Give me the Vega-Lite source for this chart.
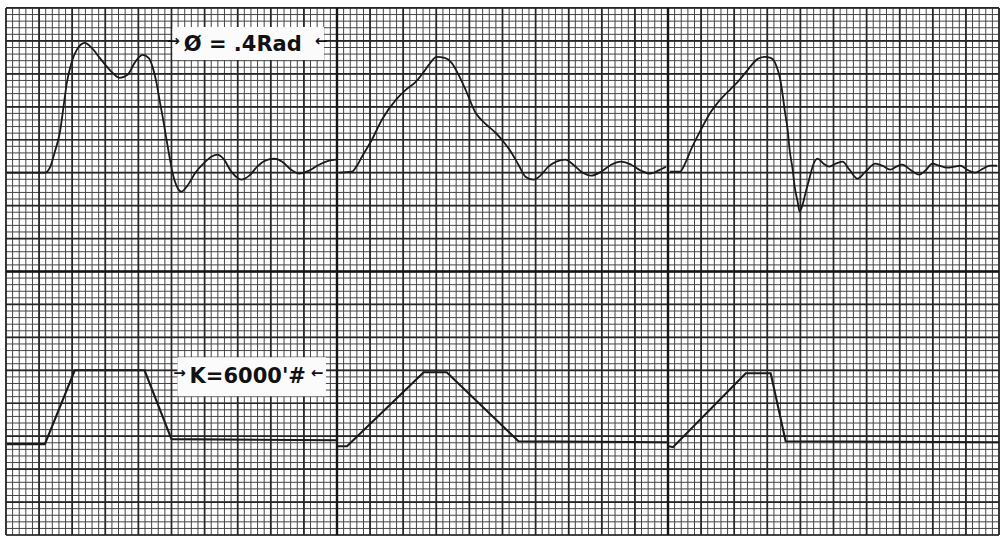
{
  "$schema": "https://vega.github.io/schema/vega-lite/v6.json",
  "width": 1004,
  "height": 537,
  "autosize": {"type": "fit", "contains": "padding"},
  "padding": 0,
  "background": "#ffffff",
  "config": {"view": {"stroke": null}},
  "datasets": {
    "vminor": [0,1,2,3,4,5,6,7,8,9,10,11,12,13,14,15,16,17,18,19,20,21,22,23,24,25,26,27,28,29,30,31,32,33,34,35,36,37,38,39,40,41,42,43,44,45,46,47,48,49,50,51,52,53,54,55,56,57,58,59,60,61,62,63,64,65,66,67,68,69,70,71,72,73,74,75,76,77,78,79,80,81,82,83,84,85,86,87,88,89,90,91,92,93,94,95,96,97,98,99,100,101,102,103,104,105,106,107,108,109,110,111,112,113,114,115,116,117,118,119,120,121,122,123,124,125,126,127,128,129,130,131,132,133,134,135,136,137,138,139,140,141,142,143,144,145,146,147,148,149,150],
    "hminor": [0,1,2,3,4,5,6,7,8,9,10,11,12,13,14,15,16,17,18,19,20,21,22,23,24,25,26,27,28,29,30,31,32,33,34,35,36,37,38,39,40,41,42,43,44,45,46,47,48,49,50,51,52,53,54,55,56,57,58,59,60,61,62,63,64,65,66,67,68,69,70,71,72,73,74,75,76,77,78,79,80],
    "vmajor": [0,5,10,15,20,25,30,35,40,45,50,55,60,65,70,75,80,85,90,95,100,105,110,115,120,125,130,135,140,145,150],
    "hmajor": [0,5,10,15,20,25,30,35,40,45,50,55,60,65,70,75,80],
    "vheavy": [50,100],
    "hheavy": [40],
    "top": [
      {"seg":"a","t":0.15,"v":55.0},{"seg":"a","t":5.87,"v":55.0},{"seg":"a","t":6.63,"v":55.76},{"seg":"a","t":7.38,"v":58.18},{"seg":"a","t":8.13,"v":61.06},{"seg":"a","t":8.73,"v":65.3},{"seg":"a","t":9.19,"v":68.64},{"seg":"a","t":9.94,"v":71.82},{"seg":"a","t":10.69,"v":73.64},{"seg":"a","t":11.9,"v":74.7},{"seg":"a","t":12.95,"v":73.94},{"seg":"a","t":14.16,"v":72.42},{"seg":"a","t":15.66,"v":70.61},{"seg":"a","t":17.17,"v":69.39},{"seg":"a","t":18.37,"v":69.85},{"seg":"a","t":19.43,"v":71.67},{"seg":"a","t":20.63,"v":72.88},{"seg":"a","t":21.54,"v":72.42},{"seg":"a","t":22.14,"v":71.06},{"seg":"a","t":22.74,"v":68.64},{"seg":"a","t":23.19,"v":66.06},{"seg":"a","t":23.8,"v":62.73},{"seg":"a","t":24.25,"v":60.0},{"seg":"a","t":24.7,"v":57.42},{"seg":"a","t":25.15,"v":55.0},{"seg":"a","t":25.75,"v":53.03},{"seg":"a","t":26.51,"v":52.12},{"seg":"a","t":27.41,"v":53.03},{"seg":"a","t":28.61,"v":55.0},{"seg":"a","t":29.97,"v":56.52},{"seg":"a","t":31.02,"v":57.42},{"seg":"a","t":31.93,"v":57.73},{"seg":"a","t":32.83,"v":57.12},{"seg":"a","t":34.04,"v":55.15},{"seg":"a","t":35.54,"v":53.94},{"seg":"a","t":36.75,"v":54.55},{"seg":"a","t":37.95,"v":55.91},{"seg":"a","t":39.16,"v":56.82},{"seg":"a","t":40.51,"v":57.12},{"seg":"a","t":41.72,"v":56.67},{"seg":"a","t":43.07,"v":55.45},{"seg":"a","t":44.28,"v":54.85},{"seg":"a","t":45.78,"v":55.3},{"seg":"a","t":47.29,"v":56.21},{"seg":"a","t":48.8,"v":56.82},{"seg":"a","t":49.85,"v":56.97},
      {"seg":"b","t":50.3,"v":55.0},{"seg":"b","t":52.26,"v":55.15},{"seg":"b","t":53.01,"v":56.06},{"seg":"b","t":53.77,"v":57.42},{"seg":"b","t":55.27,"v":60.0},{"seg":"b","t":56.78,"v":63.03},{"seg":"b","t":58.89,"v":66.06},{"seg":"b","t":60.39,"v":67.58},{"seg":"b","t":61.9,"v":68.79},{"seg":"b","t":63.1,"v":70.3},{"seg":"b","t":63.86,"v":71.36},{"seg":"b","t":65.06,"v":72.58},{"seg":"b","t":66.27,"v":72.42},{"seg":"b","t":67.32,"v":71.67},{"seg":"b","t":68.37,"v":69.85},{"seg":"b","t":69.43,"v":67.58},{"seg":"b","t":70.93,"v":64.09},{"seg":"b","t":72.44,"v":62.42},{"seg":"b","t":73.95,"v":61.06},{"seg":"b","t":75.15,"v":59.7},{"seg":"b","t":76.36,"v":58.03},{"seg":"b","t":77.41,"v":56.21},{"seg":"b","t":78.46,"v":54.39},{"seg":"b","t":79.67,"v":53.94},{"seg":"b","t":80.72,"v":54.55},{"seg":"b","t":81.93,"v":55.91},{"seg":"b","t":83.13,"v":56.67},{"seg":"b","t":84.49,"v":56.97},{"seg":"b","t":85.69,"v":56.21},{"seg":"b","t":86.9,"v":55.15},{"seg":"b","t":88.4,"v":54.55},{"seg":"b","t":89.91,"v":55.15},{"seg":"b","t":91.42,"v":56.21},{"seg":"b","t":92.92,"v":56.67},{"seg":"b","t":94.43,"v":56.21},{"seg":"b","t":95.93,"v":55.3},{"seg":"b","t":97.29,"v":54.85},{"seg":"b","t":98.49,"v":55.3},{"seg":"b","t":99.7,"v":55.91},
      {"seg":"c","t":100.3,"v":55.15},{"seg":"c","t":101.81,"v":55.15},{"seg":"c","t":102.71,"v":56.67},{"seg":"c","t":103.46,"v":58.48},{"seg":"c","t":104.97,"v":61.52},{"seg":"c","t":106.48,"v":64.24},{"seg":"c","t":108.28,"v":66.52},{"seg":"c","t":109.49,"v":67.73},{"seg":"c","t":110.54,"v":68.79},{"seg":"c","t":112.05,"v":70.61},{"seg":"c","t":113.55,"v":72.27},{"seg":"c","t":114.61,"v":72.58},{"seg":"c","t":115.51,"v":72.42},{"seg":"c","t":116.11,"v":71.82},{"seg":"c","t":116.57,"v":70.61},{"seg":"c","t":116.87,"v":69.55},{"seg":"c","t":117.32,"v":66.82},{"seg":"c","t":117.62,"v":64.55},{"seg":"c","t":118.07,"v":61.52},{"seg":"c","t":118.37,"v":58.48},{"seg":"c","t":118.83,"v":55.45},{"seg":"c","t":119.13,"v":52.88},{"seg":"c","t":119.58,"v":50.61},{"seg":"c","t":119.88,"v":49.09},{"seg":"c","t":120.33,"v":50.15},{"seg":"c","t":120.78,"v":51.97},{"seg":"c","t":121.39,"v":54.24},{"seg":"c","t":121.84,"v":55.91},{"seg":"c","t":122.59,"v":57.12},{"seg":"c","t":123.49,"v":56.36},{"seg":"c","t":124.4,"v":55.91},{"seg":"c","t":125.3,"v":56.36},{"seg":"c","t":126.36,"v":56.67},{"seg":"c","t":127.41,"v":55.45},{"seg":"c","t":128.61,"v":54.09},{"seg":"c","t":129.82,"v":55.15},{"seg":"c","t":131.33,"v":56.36},{"seg":"c","t":132.38,"v":56.06},{"seg":"c","t":133.58,"v":55.45},{"seg":"c","t":134.49,"v":55.91},{"seg":"c","t":135.39,"v":56.21},{"seg":"c","t":136.6,"v":55.45},{"seg":"c","t":137.95,"v":54.7},{"seg":"c","t":139.01,"v":55.45},{"seg":"c","t":139.91,"v":56.36},{"seg":"c","t":140.96,"v":56.06},{"seg":"c","t":142.17,"v":55.76},{"seg":"c","t":143.22,"v":55.91},{"seg":"c","t":144.13,"v":56.06},{"seg":"c","t":145.18,"v":55.45},{"seg":"c","t":146.39,"v":55.0},{"seg":"c","t":147.59,"v":55.61},{"seg":"c","t":148.64,"v":56.06},{"seg":"c","t":149.7,"v":56.06}
    ],
    "bottom": [
      {"seg":"a","t":0.15,"v":13.79},{"seg":"a","t":5.87,"v":13.79},{"seg":"a","t":10.39,"v":25.0},{"seg":"a","t":20.93,"v":25.0},{"seg":"a","t":25.0,"v":14.55},{"seg":"a","t":49.85,"v":14.39},
      {"seg":"b","t":50.15,"v":13.48},{"seg":"b","t":51.51,"v":13.48},{"seg":"b","t":63.1,"v":24.7},{"seg":"b","t":66.57,"v":24.7},{"seg":"b","t":77.41,"v":14.24},{"seg":"b","t":99.85,"v":14.09},
      {"seg":"c","t":100.15,"v":13.48},{"seg":"c","t":100.75,"v":13.33},{"seg":"c","t":111.75,"v":24.55},{"seg":"c","t":115.51,"v":24.55},{"seg":"c","t":117.77,"v":14.24},{"seg":"c","t":150.0,"v":14.09}
    ],
    "boxes": [
      {"x1":25.15,"x2":48.04,"y1":72.12,"y2":77.12},
      {"x1":25.9,"x2":48.34,"y1":21.06,"y2":26.97}
    ],
    "labels": [
      {"x":35.77,"y":74.39,"txt":"Ø = .4Rad"},
      {"x":36.52,"y":24.0,"txt":"K=6000'#"}
    ],
    "arrows": [
      {"x":25.3,"y":75.0,"txt":"→"},
      {"x":47.59,"y":75.0,"txt":"←"},
      {"x":26.2,"y":24.6,"txt":"→"},
      {"x":46.99,"y":24.6,"txt":"←"}
    ]
  },
  "layer": [
    {
      "data": {"name": "vminor"},
      "mark": {"type": "rule", "color": "#444444", "strokeWidth": 1},
      "encoding": {
        "x": {"field": "data", "type": "quantitative", "scale": {"domain": [-0.904, 150.3], "nice": false, "zero": false}, "axis": null},
        "y": {"datum": 0, "type": "quantitative", "scale": {"domain": [-0.15, 81.21], "nice": false, "zero": false}, "axis": null},
        "y2": {"datum": 80}
      }
    },
    {
      "data": {"name": "hminor"},
      "mark": {"type": "rule", "color": "#444444", "strokeWidth": 1},
      "encoding": {
        "y": {"field": "data", "type": "quantitative", "scale": {"domain": [-0.15, 81.21], "nice": false, "zero": false}, "axis": null},
        "x": {"datum": 0, "type": "quantitative", "scale": {"domain": [-0.904, 150.3], "nice": false, "zero": false}, "axis": null},
        "x2": {"datum": 150}
      }
    },
    {
      "data": {"name": "vmajor"},
      "mark": {"type": "rule", "color": "#262626", "strokeWidth": 1.7},
      "encoding": {
        "x": {"field": "data", "type": "quantitative"},
        "y": {"datum": 0, "type": "quantitative"},
        "y2": {"datum": 80}
      }
    },
    {
      "data": {"name": "hmajor"},
      "mark": {"type": "rule", "color": "#262626", "strokeWidth": 1.7},
      "encoding": {
        "y": {"field": "data", "type": "quantitative"},
        "x": {"datum": 0, "type": "quantitative"},
        "x2": {"datum": 150}
      }
    },
    {
      "data": {"name": "vheavy"},
      "mark": {"type": "rule", "color": "#151515", "strokeWidth": 2.4},
      "encoding": {
        "x": {"field": "data", "type": "quantitative"},
        "y": {"datum": 0, "type": "quantitative"},
        "y2": {"datum": 80}
      }
    },
    {
      "data": {"name": "hheavy"},
      "mark": {"type": "rule", "color": "#151515", "strokeWidth": 2.4},
      "encoding": {
        "y": {"field": "data", "type": "quantitative"},
        "x": {"datum": 0, "type": "quantitative"},
        "x2": {"datum": 150}
      }
    },
    {
      "data": {"name": "boxes"},
      "mark": {"type": "rect", "fill": "#fbfbfb", "stroke": null},
      "encoding": {
        "x": {"field": "x1", "type": "quantitative"},
        "x2": {"field": "x2"},
        "y": {"field": "y1", "type": "quantitative"},
        "y2": {"field": "y2"}
      }
    },
    {
      "data": {"name": "top"},
      "mark": {"type": "line", "interpolate": "monotone", "color": "#1a1a1a", "strokeWidth": 1.8},
      "encoding": {
        "x": {"field": "t", "type": "quantitative"},
        "y": {"field": "v", "type": "quantitative"},
        "detail": {"field": "seg"}
      }
    },
    {
      "data": {"name": "bottom"},
      "mark": {"type": "line", "interpolate": "linear", "color": "#1a1a1a", "strokeWidth": 2.1},
      "encoding": {
        "x": {"field": "t", "type": "quantitative"},
        "y": {"field": "v", "type": "quantitative"},
        "detail": {"field": "seg"}
      }
    },
    {
      "data": {"name": "labels"},
      "mark": {"type": "text", "font": "DejaVu Sans", "fontWeight": "bold", "fontSize": 21, "color": "#111111", "align": "center", "baseline": "middle"},
      "encoding": {
        "x": {"field": "x", "type": "quantitative"},
        "y": {"field": "y", "type": "quantitative"},
        "text": {"field": "txt"}
      }
    },
    {
      "data": {"name": "arrows"},
      "mark": {"type": "text", "font": "DejaVu Sans", "fontWeight": "bold", "fontSize": 15, "color": "#111111", "align": "center", "baseline": "middle"},
      "encoding": {
        "x": {"field": "x", "type": "quantitative"},
        "y": {"field": "y", "type": "quantitative"},
        "text": {"field": "txt"}
      }
    }
  ]
}
